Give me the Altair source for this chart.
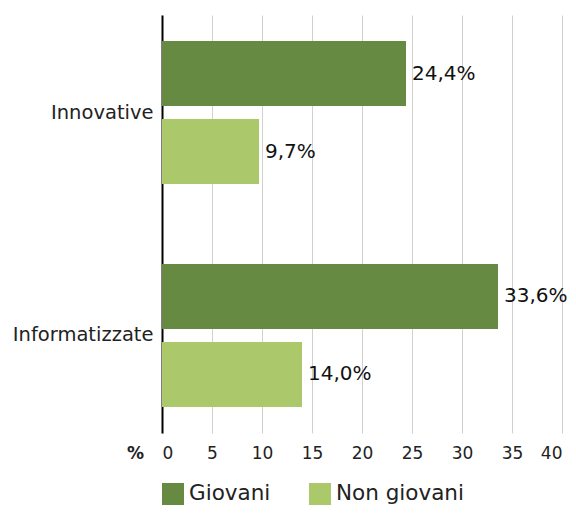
import altair as alt
import pandas as pd

categories = ["Innovative", "Informatizzate"]
series = ["Giovani", "Non giovani"]
giovani = [24.4, 33.6]
non_giovani = [9.7, 14.0]
colors = ["#668a41", "#abc86b"]
x_ticks = [0, 5, 10, 15, 20, 25, 30, 35, 40]

rows = []
for c, g, n in zip(categories, giovani, non_giovani):
    rows.append({"cat": c, "serie": series[0], "val": g})
    rows.append({"cat": c, "serie": series[1], "val": n})
df = pd.DataFrame(rows)

FONT = "DejaVu Sans"

base = alt.Chart(df).transform_calculate(
    lbl="replace(format(datum.val, '.1f'), '.', ',') + '%'"
).encode(
    y=alt.Y("cat:N", sort=categories,
            scale=alt.Scale(paddingInner=0.125, paddingOuter=0),
            axis=alt.Axis(title=None, labelFontSize=19.5, labelColor="#222222",
                          domainColor="#000000", domainWidth=2, ticks=False,
                          labelPadding=9, grid=False)),
    yOffset=alt.YOffset("serie:N", sort=series,
                        scale=alt.Scale(paddingInner=0.167, paddingOuter=0.333)),
)

bars = base.mark_bar().encode(
    x=alt.X("val:Q", scale=alt.Scale(domain=[0, 40], nice=False),
            axis=alt.Axis(values=x_ticks, grid=True, gridColor="#d0d0d0", gridWidth=1,
                          domain=False, ticks=False, labelFontSize=17, labelColor="#222222",
                          labelPadding=12, title="%", titleFontSize=17, titleFontWeight="bold",
                          titleColor="#222222", titleX=-27, titleY=20, titleAngle=0,
                          titleAlign="center", titleBaseline="middle")),
    color=alt.Color("serie:N", scale=alt.Scale(domain=series, range=colors),
                    legend=alt.Legend(title=None, orient="none", legendX=0, legendY=468,
                                      direction="horizontal", symbolType="square",
                                      symbolSize=484, symbolStrokeWidth=0, symbolOpacity=1,
                                      labelFontSize=21.5, labelColor="#222222", labelOffset=5,
                                      columnPadding=38, padding=0)),
)

text = base.mark_text(align="left", baseline="middle", dx=6, fontSize=20, color="#111111").encode(
    x=alt.X("val:Q"),
    text="lbl:N",
)

chart = alt.layer(bars, text).properties(
    width=400, height=418,
    autosize=alt.AutoSizeParams(type="none"),
    padding={"left": 154, "top": 7, "right": 6, "bottom": 72},
).configure(font=FONT).configure_view(stroke=None)

chart.save("out.html", embed_options={"renderer": "svg", "actions": False})
